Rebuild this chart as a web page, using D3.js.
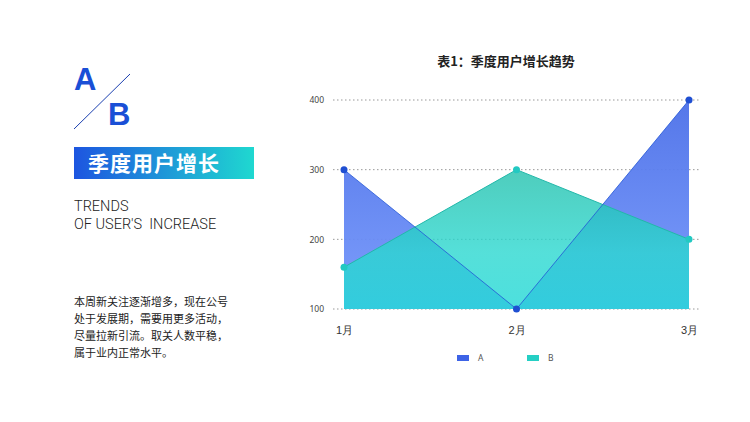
<!DOCTYPE html>
<html><head><meta charset="utf-8">
<script src="https://cdn.jsdelivr.net/npm/d3@7"></script>
<style>body{margin:0;background:#fff;}svg{display:block;font-family:"Noto Sans CJK SC","Noto Sans",sans-serif;}</style>
</head><body><svg id="c" width="750" height="422"></svg>
<script>
const categories = ["1月","2月","3月"];
const seriesA = [300,100,400];
const seriesB = [160,300,200];
const yTicks = [100,200,300,400];
const seriesNames = ["A","B"];
const title = "表1：季度用户增长趋势";
const paragraph = ["本周新关注逐渐增多，现在公号","处于发展期，需要用更多活动，","尽量拉新引流。取关人数平稳，","属于业内正常水平。"];

const svg = d3.select("#c");
const defs = svg.append("defs");
const gb = defs.append("linearGradient").attr("id","banner").attr("x1",0).attr("x2",1).attr("y1",0).attr("y2",0);
gb.append("stop").attr("offset","0%").attr("stop-color","#1d55e0");
gb.append("stop").attr("offset","100%").attr("stop-color","#1fd8d0");
const gA = defs.append("linearGradient").attr("id","gA").attr("x1",0).attr("x2",0).attr("y1",0).attr("y2",1);
gA.append("stop").attr("offset","0%").attr("stop-color","#4c70e8");
gA.append("stop").attr("offset","100%").attr("stop-color","#7699fc");
const gB = defs.append("linearGradient").attr("id","gB").attr("x1",0).attr("x2",0).attr("y1",0).attr("y2",1);
gB.append("stop").attr("offset","0%").attr("stop-color","#22c0ac");
gB.append("stop").attr("offset","60%").attr("stop-color","#2ad8d0");
gB.append("stop").attr("offset","100%").attr("stop-color","#20d8d6");

// left decoration
const deco = "'Liberation Sans', Arial, sans-serif";
svg.append("text").attr("x",74).attr("y",90).attr("font-size",31).attr("font-weight","bold").attr("fill","#1a4fd6").attr("font-family",deco).text("A");
svg.append("text").attr("x",108).attr("y",125).attr("font-size",31).attr("font-weight","bold").attr("fill","#1a4fd6").attr("font-family",deco).text("B");
svg.append("line").attr("x1",74).attr("y1",129).attr("x2",130).attr("y2",74).attr("stroke","#1a3fb0").attr("stroke-width",1);
svg.append("rect").attr("x",74).attr("y",147).attr("width",180).attr("height",32).attr("fill","url(#banner)");
svg.append("text").attr("x",88).attr("y",171).attr("font-size",21).attr("font-weight","bold").attr("fill","#fff").attr("letter-spacing",1).text("季度用户增长");
svg.append("text").attr("x",74).attr("y",211).attr("font-size",14.5).attr("font-weight",300).attr("fill","#222").attr("font-family","Roboto, 'Noto Sans', sans-serif").text("TRENDS");
svg.append("text").attr("x",74).attr("y",229).attr("font-size",14.5).attr("font-weight",300).attr("fill","#222").attr("font-family","Roboto, 'Noto Sans', sans-serif").attr("xml:space","preserve").text("OF USER'S  INCREASE");
paragraph.forEach((t,i)=>{
  svg.append("text").attr("x",74).attr("y",306+i*17).attr("font-size",11).attr("fill","#222").text(t);
});

// chart
const x = d3.scalePoint().domain(categories).range([344,689]);
const y = d3.scaleLinear().domain([100,400]).range([309,100]);
svg.append("text").attr("x",506).attr("y",66).attr("text-anchor","middle").attr("font-size",13).attr("font-weight","bold").attr("fill","#222").text(title);

const grid = svg.append("g");
yTicks.forEach(t=>{
  grid.append("line").attr("x1",333).attr("x2",700).attr("y1",y(t)).attr("y2",y(t)).attr("stroke","#999").attr("stroke-dasharray","1.5,2.5").attr("stroke-width",1);
});
const yAxis = svg.append("g").attr("transform","translate(324,0)").call(d3.axisLeft(y).tickValues(yTicks).tickSize(0).tickPadding(0));
yAxis.select(".domain").remove();
yAxis.selectAll("text").attr("font-size",8.5).attr("fill","#444").attr("font-family","'Noto Sans', sans-serif");
const xAxis = svg.append("g").attr("transform","translate(0,326)").call(d3.axisBottom(x).tickSize(0).tickPadding(0));
xAxis.select(".domain").remove();
xAxis.selectAll("text").attr("font-size",11).attr("fill","#333").attr("dy","0.71em");

const area = d3.area().x((d,i)=>x(categories[i])).y0(y(100)).y1(d=>y(d));
const line = d3.line().x((d,i)=>x(categories[i])).y(d=>y(d));
svg.append("path").datum(seriesA).attr("d",area).attr("fill","url(#gA)").attr("opacity",0.95);
svg.append("path").datum(seriesB).attr("d",area).attr("fill","url(#gB)").attr("opacity",0.8);
svg.append("path").datum(seriesB).attr("d",line).attr("fill","none").attr("stroke","#22b8aa").attr("stroke-width",1);
svg.append("path").datum(seriesA).attr("d",line).attr("fill","none").attr("stroke","#2356d6").attr("stroke-width",1).attr("opacity",0.8);
svg.selectAll(".pa").data(seriesA).join("circle").attr("cx",(d,i)=>x(categories[i])).attr("cy",d=>y(d)).attr("r",3.5).attr("fill","#1f4fd2");
svg.selectAll(".pb").data(seriesB).join("circle").attr("cx",(d,i)=>x(categories[i])).attr("cy",d=>y(d)).attr("r",3.5).attr("fill","#22c9c2");

// legend
const legColors = ["#3d63e6","#25cfc4"];
seriesNames.forEach((n,i)=>{
  const lx = 457 + i*70;
  svg.append("rect").attr("x",lx).attr("y",355).attr("width",12).attr("height",6).attr("fill",legColors[i]);
  svg.append("text").attr("x",lx+21).attr("y",361).attr("font-size",8.5).attr("fill","#555").attr("font-family","'Noto Sans', sans-serif").text(n);
});
</script></body></html>
